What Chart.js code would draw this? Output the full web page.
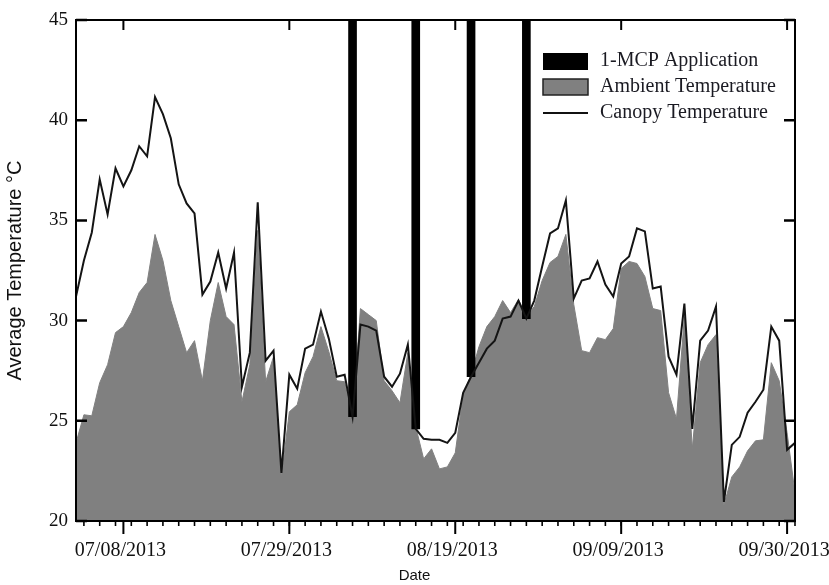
<!DOCTYPE html>
<html>
<head>
<meta charset="utf-8">
<script src="https://cdn.jsdelivr.net/npm/chart.js@4.4.1/dist/chart.umd.min.js"></script>
<style>
  html, body { margin: 0; padding: 0; background: #fff; }
  #wrap { position: relative; width: 829px; height: 585px; }
</style>
</head>
<body>
<div id="wrap"><canvas id="tempChart"></canvas></div>
<script>
// day numbers are counted from 07/01/2013 (= day 0); the series start on day 1 (07/02)
const firstDay = 1;

const canopyTemp = [
  31.2, 33.0, 34.4, 37.05, 35.3, 37.6, 36.7, 37.5, 38.7, 38.2,
  41.15, 40.3, 39.1, 36.8, 35.85, 35.35, 31.3, 31.95, 33.4, 31.6,
  33.4, 26.7, 28.4, 35.9, 28.0, 28.5, 22.4, 27.3, 26.6, 28.6,
  28.8, 30.45, 29.1, 27.2, 27.3, 25.2, 29.8, 29.7, 29.5, 27.2,
  26.7, 27.35, 28.8, 24.6, 24.1, 24.05, 24.05, 23.9, 24.4, 26.4,
  27.2, 27.9, 28.6, 29.0, 30.1, 30.2, 31.0, 30.1, 31.0, 32.7,
  34.35, 34.6, 36.0, 31.1, 32.0, 32.1, 32.95, 31.8, 31.2, 32.85,
  33.2, 34.6, 34.45, 31.6, 31.7, 28.2, 27.3, 30.85, 24.6, 29.0,
  29.5, 30.7, 20.95, 23.8, 24.2, 25.4, 25.95, 26.55, 29.7, 29.0,
  23.55, 23.9
];

const ambientTemp = [
  23.9, 25.3, 25.25, 26.9, 27.8, 29.4, 29.7, 30.4, 31.4, 31.9,
  34.3, 33.0, 31.0, 29.7, 28.4, 29.0, 27.0, 30.0, 31.9, 30.2,
  29.8, 25.95, 27.8, 34.5, 26.95, 28.2, 22.2, 25.45, 25.8, 27.4,
  28.2, 29.7, 28.45, 27.0, 26.95, 25.1, 30.6, 30.3, 30.0, 27.0,
  26.5, 25.9, 28.4, 24.7, 23.1, 23.6, 22.6, 22.7, 23.4, 26.3,
  27.3, 28.7, 29.7, 30.2, 31.0, 30.4, 31.05, 30.2, 30.7, 32.0,
  32.9, 33.2, 34.3, 30.8, 28.5, 28.4, 29.15, 29.05, 29.6, 32.6,
  32.95, 32.85, 32.2, 30.6, 30.5, 26.4, 25.1, 30.2, 23.6, 27.9,
  28.8, 29.3, 20.8, 22.2, 22.7, 23.5, 24.0, 24.05, 27.9, 27.0,
  24.4, 21.4
];

// 1-MCP application days (08/06, 08/14, 08/21, 08/28)
const mcpDays = [36, 44, 51, 58];

const xTickDays = [7, 28, 49, 70, 91];
const xTickLabels = ['07/08/2013', '07/29/2013', '08/19/2013', '09/09/2013', '09/30/2013'];
const yTicks = [20, 25, 30, 35, 40, 45];

const xMin = 1;
const xMax = 92;
const yMin = 20;
const yMax = 45;

const serif = 'Liberation Serif';
const sans = 'Liberation Sans';

const canopyPts = canopyTemp.map((v, i) => ({ x: firstDay + i, y: v }));
const ambientPts = ambientTemp.map((v, i) => ({ x: firstDay + i, y: v }));
const mcpBars = mcpDays.map((d) => ({ x: d, y: [canopyTemp[d - firstDay], yMax] }));

// frame and tick marks: inward on left/top/right, outward on bottom
const framePlugin = {
  id: 'frame',
  afterDraw(chart) {
    const { ctx, chartArea: a, scales } = chart;
    const xs = scales.x;
    const ys = scales.y;
    ctx.save();
    ctx.strokeStyle = '#000';
    ctx.lineCap = 'butt';

    ctx.lineWidth = 2.5;
    yTicks.forEach((v) => {
      const py = ys.getPixelForValue(v);
      ctx.beginPath();
      ctx.moveTo(a.left, py);
      ctx.lineTo(a.left + 11, py);
      ctx.moveTo(a.right, py);
      ctx.lineTo(a.right - 11, py);
      ctx.stroke();
    });

    ctx.lineWidth = 2;
    xTickDays.forEach((d) => {
      const px = xs.getPixelForValue(d);
      ctx.beginPath();
      ctx.moveTo(px, a.top);
      ctx.lineTo(px, a.top + 10);
      ctx.moveTo(px, a.bottom);
      ctx.lineTo(px, a.bottom + 13);
      ctx.stroke();
    });

    ctx.lineWidth = 1.6;
    for (let d = 2; d <= xMax; d += 2) {
      const px = xs.getPixelForValue(d);
      ctx.beginPath();
      ctx.moveTo(px, a.bottom);
      ctx.lineTo(px, a.bottom + 5);
      ctx.stroke();
    }

    ctx.lineWidth = 2;
    ctx.strokeRect(a.left, a.top, a.right - a.left, a.bottom - a.top);
    ctx.restore();
  },
};

// legend sits inside the plot, top right
const legendPlugin = {
  id: 'innerLegend',
  afterDraw(chart) {
    const { ctx } = chart;
    const bx = 543;
    const bw = 45;
    const tx = 600;
    const rows = [61, 87, 113];
    ctx.save();
    ctx.fillStyle = '#000';
    ctx.fillRect(bx, rows[0] - 8, bw, 17);

    ctx.fillStyle = '#808080';
    ctx.fillRect(bx, rows[1] - 8, bw, 16);
    ctx.strokeStyle = '#222';
    ctx.lineWidth = 1.5;
    ctx.strokeRect(bx, rows[1] - 8, bw, 16);

    ctx.strokeStyle = '#111';
    ctx.lineWidth = 2;
    ctx.beginPath();
    ctx.moveTo(bx, rows[2]);
    ctx.lineTo(bx + bw, rows[2]);
    ctx.stroke();

    ctx.fillStyle = '#1a1a22';
    ctx.font = `20px "${serif}"`;
    ctx.textBaseline = 'middle';
    ctx.textAlign = 'left';
    const names = chart.data.datasets.map((ds) => ds.label);
    ctx.fillText(names[0], tx, rows[0]);
    ctx.fillText(names[1], tx, rows[1]);
    ctx.fillText(names[2], tx, rows[2]);
    ctx.restore();
  },
};

new Chart(document.getElementById('tempChart'), {
  type: 'line',
  data: {
    datasets: [
      {
        type: 'bar',
        label: '1-MCP Application',
        data: mcpBars,
        backgroundColor: '#000',
        borderWidth: 0,
        barThickness: 8,
        order: 1,
      },
      {
        label: 'Ambient Temperature',
        data: ambientPts,
        borderColor: '#808080',
        backgroundColor: '#808080',
        borderWidth: 1,
        pointRadius: 0,
        tension: 0,
        fill: 'start',
        order: 2,
      },
      {
        label: 'Canopy Temperature',
        data: canopyPts,
        borderColor: '#141414',
        borderWidth: 2,
        pointRadius: 0,
        tension: 0,
        fill: false,
        order: 0,
      },
    ],
  },
  options: {
    responsive: true,
    maintainAspectRatio: false,
    animation: false,
    layout: { padding: { top: 20, right: 0, bottom: 0, left: 0 } },
    plugins: {
      legend: { display: false },
      tooltip: { enabled: false },
      // "Date" is centred on the whole figure, not on the plot
      title: {
        display: true,
        text: 'Date',
        position: 'bottom',
        align: 'center',
        color: '#111',
        font: { family: sans, size: 15, weight: 'normal' },
        padding: { top: 0, bottom: 0 },
      },
    },
    scales: {
      x: {
        type: 'linear',
        min: xMin,
        max: xMax,
        offset: false,
        afterBuildTicks: (s) => { s.ticks = xTickDays.map((v) => ({ value: v })); },
        afterFit: (s) => { s.height = 46; s.paddingLeft = 0; s.paddingRight = 0; },
        ticks: {
          autoSkip: false,
          maxRotation: 0,
          padding: 18,
          labelOffset: -3,
          color: '#111',
          font: { family: serif, size: 20 },
          callback: (v) => xTickLabels[xTickDays.indexOf(v)] ?? '',
        },
        grid: { display: false, drawTicks: false },
        border: { display: false },
      },
      y: {
        min: yMin,
        max: yMax,
        afterBuildTicks: (s) => { s.ticks = yTicks.map((v) => ({ value: v })); },
        afterFit: (s) => { s.width = 76; },
        ticks: {
          padding: 8,
          color: '#111',
          font: { family: serif, size: 19 },
        },
        grid: { display: false, drawTicks: false },
        border: { display: false },
        title: {
          display: true,
          text: 'Average Temperature °C',
          color: '#111',
          font: { family: sans, size: 20 },
          padding: { top: 3, bottom: 0 },
        },
      },
      // empty right-hand axis that only reserves the margin right of the frame
      yRight: {
        position: 'right',
        min: yMin,
        max: yMax,
        afterFit: (s) => { s.width = 34; },
        ticks: { display: false },
        grid: { display: false, drawTicks: false },
        border: { display: false },
      },
    },
  },
  plugins: [framePlugin, legendPlugin],
});
</script>
</body>
</html>
